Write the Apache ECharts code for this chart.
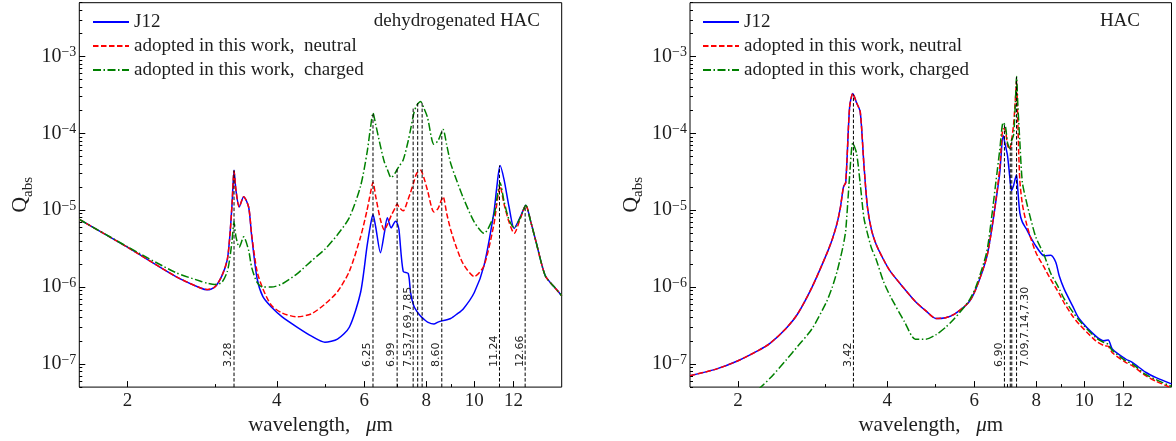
<!DOCTYPE html>
<html><head><meta charset="utf-8">
<script src="https://cdn.jsdelivr.net/npm/echarts@6/dist/echarts.min.js"></script>
<style>html,body{margin:0;padding:0;background:#fff}#c{width:1176px;height:441px}</style>
</head><body><div id="c"></div>
<script>
// ---- axis ticks ----
const xTicks = [2, 4, 6, 8, 10, 12];
const xMinorTicks = [3, 5, 7, 9];
const yTicks = [1e-7, 1e-6, 1e-5, 1e-4, 1e-3];
const ySubs = [2, 3, 4, 5, 6, 7, 8, 9];
const xRange = [1.6, 15];
const yRange = [5e-8, 5e-3];

// ---- left panel: dehydrogenated HAC ----
const lambdaL = [1.6, 2.0, 2.5, 2.8, 2.9, 3.0, 3.1, 3.18, 3.22, 3.25, 3.28, 3.31, 3.36, 3.43, 3.51, 3.56, 3.65, 3.75, 3.9, 4.1, 4.4, 4.7, 5.0, 5.3, 5.6, 5.9, 6.08, 6.18, 6.25, 6.33, 6.47, 6.59, 6.68, 6.80, 6.94, 6.99, 7.05, 7.19, 7.36, 7.44, 7.55, 7.65, 7.79, 7.92, 8.05, 8.29, 8.45, 8.65, 8.8, 8.96, 9.2, 9.5, 10.0, 10.46, 10.95, 11.1, 11.27, 11.48, 11.75, 12.03, 12.4, 12.7, 13.0, 13.3, 13.9, 14.5, 15.0];
const j12L = [7.6e-6, 3.3e-6, 1.38e-6, 9.8e-7, 9.2e-7, 1.0e-6, 1.4e-6, 2.3e-6, 5.0e-6, 1.2e-5, 3.3e-5, 1.8e-5, 1.1e-5, 1.5e-5, 1.1e-5, 4.6e-6, 1.3e-6, 7.5e-7, 5.5e-7, 4.1e-7, 3.0e-7, 2.3e-7, 1.92e-7, 2.1e-7, 3.0e-7, 8.5e-7, 3.4e-6, 6.5e-6, 8.8e-6, 6.0e-6, 2.8e-6, 5.1e-6, 8.0e-6, 5.9e-6, 7.2e-6, 6.8e-6, 5.6e-6, 1.6e-6, 1.5e-6, 8.5e-7, 5.7e-7, 4.9e-7, 4.2e-7, 3.8e-7, 3.5e-7, 3.3e-7, 3.5e-7, 3.66e-7, 3.75e-7, 3.9e-7, 4.4e-7, 5.2e-7, 8.5e-7, 1.9e-6, 9.3e-6, 2.0e-5, 3.8e-5, 2.5e-5, 1.1e-5, 5.8e-6, 8.4e-6, 1.16e-5, 7.0e-6, 4.0e-6, 1.4e-6, 1.0e-6, 7.7e-7];
const neutralL = [7.6e-6, 3.3e-6, 1.38e-6, 9.8e-7, 9.3e-7, 1.0e-6, 1.4e-6, 2.3e-6, 5.0e-6, 1.2e-5, 3.2e-5, 1.8e-5, 1.1e-5, 1.5e-5, 1.1e-5, 4.8e-6, 1.6e-6, 9.5e-7, 5.8e-7, 4.6e-7, 4.1e-7, 4.5e-7, 6.0e-7, 8.7e-7, 1.6e-6, 4.5e-6, 1.0e-5, 1.7e-5, 2.3e-5, 1.5e-5, 7.5e-6, 5.5e-6, 6.5e-6, 8.5e-6, 1.1e-5, 1.2e-5, 1.1e-5, 9.8e-6, 1.4e-5, 1.7e-5, 2.3e-5, 3.0e-5, 3.3e-5, 2.6e-5, 1.8e-5, 9.5e-6, 1.05e-5, 1.5e-5, 9.0e-6, 5.6e-6, 3.3e-6, 2.0e-6, 1.37e-6, 1.9e-6, 6.5e-6, 1.2e-5, 2.05e-5, 1.2e-5, 7.0e-6, 5.0e-6, 8.0e-6, 1.16e-5, 7.0e-6, 4.0e-6, 1.4e-6, 1.0e-6, 7.7e-7];
const chargedL = [7.6e-6, 3.35e-6, 1.55e-6, 1.2e-6, 1.12e-6, 1.08e-6, 1.15e-6, 1.6e-6, 2.5e-6, 4.0e-6, 7.0e-6, 4.5e-6, 3.3e-6, 4.5e-6, 3.0e-6, 1.8e-6, 1.15e-6, 1.0e-6, 1.0e-6, 1.1e-6, 1.5e-6, 2.2e-6, 3.1e-6, 4.8e-6, 8.0e-6, 2.06e-5, 5.6e-5, 1.2e-4, 1.84e-4, 1.3e-4, 6.8e-5, 4.2e-5, 3.4e-5, 2.64e-5, 3.1e-5, 3.4e-5, 3.7e-5, 4.5e-5, 8.0e-5, 1.12e-4, 1.8e-4, 2.3e-4, 2.6e-4, 2.1e-4, 1.6e-4, 7.2e-5, 8.0e-5, 1.12e-4, 7.0e-5, 4.1e-5, 2.5e-5, 1.45e-5, 7.0e-6, 5.0e-6, 8.5e-6, 1.4e-5, 2.28e-5, 1.3e-5, 7.5e-6, 5.9e-6, 8.2e-6, 1.16e-5, 7.0e-6, 4.0e-6, 1.4e-6, 1.0e-6, 7.7e-7];
const bandsL = [3.28, 6.25, 6.99, 7.53, 7.69, 7.85, 8.60, 11.24, 12.66];
const bandTopsL = [3.3e-5, 1.8e-4, 3.4e-5, 2.2e-4, 2.6e-4, 2.5e-4, 1.1e-4, 3.8e-5, 1.16e-5];
const bandLabelsL = ['3.28', '6.25', '6.99', '7.53,7.69,7.85', '', '', '8.60', '11.24', '12.66'];

// ---- right panel: HAC ----
const lambdaR = [1.6, 1.8, 2.0, 2.2, 2.32, 2.5, 2.64, 2.82, 3.02, 3.1, 3.17, 3.22, 3.265, 3.30, 3.36, 3.41, 3.47, 3.53, 3.59, 3.65, 3.72, 3.8, 3.93, 4.06, 4.34, 4.56, 4.79, 5.02, 5.25, 5.47, 5.84, 6.04, 6.35, 6.5, 6.63, 6.75, 6.86, 6.93, 7.0, 7.07, 7.13, 7.2, 7.26, 7.30, 7.34, 7.41, 7.5, 7.64, 7.8, 7.99, 8.3, 8.56, 8.76, 8.9, 9.11, 9.47, 9.76, 10.55, 10.96, 11.18, 11.39, 12.12, 12.5, 13.3, 14.0, 15.0];
const j12R = [7.05e-8, 8.5e-8, 1.1e-7, 1.5e-7, 1.85e-7, 2.9e-7, 4.5e-7, 9.9e-7, 2.7e-6, 4.2e-6, 6.8e-6, 1.1e-5, 2.0e-5, 2.3e-5, 2.2e-4, 3.3e-4, 2.5e-4, 1.9e-4, 4.0e-5, 1.1e-5, 5.5e-6, 3.6e-6, 2.3e-6, 1.6e-6, 9.4e-7, 6.5e-7, 4.9e-7, 3.9e-7, 4.0e-7, 4.45e-7, 6.3e-7, 9.4e-7, 2.4e-6, 5.5e-6, 1.3e-5, 3.0e-5, 9.4e-5, 7.0e-5, 5.1e-5, 2.8e-5, 1.8e-5, 2.1e-5, 2.6e-5, 2.9e-5, 1.9e-5, 9.3e-6, 7.0e-6, 5.7e-6, 4.4e-6, 3.4e-6, 2.55e-6, 2.6e-6, 2.1e-6, 1.4e-6, 9.4e-7, 5.7e-7, 3.9e-7, 2.3e-7, 2.0e-7, 2.05e-7, 1.57e-7, 1.16e-7, 1.05e-7, 7.8e-8, 6.6e-8, 5.5e-8];
const neutralR = [7.05e-8, 8.5e-8, 1.1e-7, 1.5e-7, 1.85e-7, 2.9e-7, 4.5e-7, 9.9e-7, 2.7e-6, 4.2e-6, 6.8e-6, 1.1e-5, 2.0e-5, 2.3e-5, 2.2e-4, 3.3e-4, 2.5e-4, 1.9e-4, 4.0e-5, 1.1e-5, 5.5e-6, 3.6e-6, 2.3e-6, 1.6e-6, 9.4e-7, 6.5e-7, 4.9e-7, 3.9e-7, 4.0e-7, 4.45e-7, 6.3e-7, 9.4e-7, 2.4e-6, 5.5e-6, 1.35e-5, 3.5e-5, 1.15e-4, 1.1e-4, 7.0e-5, 6.2e-5, 8.0e-5, 1.3e-4, 2.8e-4, 4.8e-4, 1.5e-4, 2.5e-5, 1.2e-5, 6.8e-6, 4.3e-6, 2.8e-6, 1.8e-6, 1.25e-6, 9.8e-7, 8.2e-7, 6.2e-7, 4.2e-7, 3.3e-7, 2.0e-7, 1.73e-7, 1.7e-7, 1.4e-7, 1.05e-7, 9.5e-8, 7.05e-8, 5.9e-8, 4.9e-8];
const chargedR = [null, null, null, 4.7e-8, 6.5e-8, 1.12e-7, 1.7e-7, 2.85e-7, 6.5e-7, 1.0e-6, 1.6e-6, 2.4e-6, 3.6e-6, 5.5e-6, 2.8e-5, 7.5e-5, 5.5e-5, 2.2e-5, 8.0e-6, 5.0e-6, 3.2e-6, 2.3e-6, 1.2e-6, 7.6e-7, 3.5e-7, 2.1e-7, 2.1e-7, 2.4e-7, 3.0e-7, 3.9e-7, 6.5e-7, 1.0e-6, 2.8e-6, 8.0e-6, 2.3e-5, 6.0e-5, 1.38e-4, 1.25e-4, 7.5e-5, 6.4e-5, 8.0e-5, 9.5e-5, 2.5e-4, 5.5e-4, 2.5e-4, 8.0e-5, 2.3e-5, 1.3e-5, 7.6e-6, 4.4e-6, 2.6e-6, 1.5e-6, 1.15e-6, 9.5e-7, 7.0e-7, 4.8e-7, 3.7e-7, 2.2e-7, 1.9e-7, 1.8e-7, 1.5e-7, 1.1e-7, 1.0e-7, 7.3e-8, 6.2e-8, 5.1e-8];
const bandsR = [3.42, 6.90, 7.09, 7.14, 7.30];
const bandTopsR = [3.2e-4, 1.35e-4, 6.4e-5, 8.5e-5, 5.4e-4];
const bandLabelsR = ['3.42', '6.90', '', '', '7.09,7.14,7.30'];

const NAME_J12 = 'J12';
const NEUTRAL_L = 'adopted in this work,  neutral';
const CHARGED_L = 'adopted in this work,  charged';
const NEUTRAL_R = 'adopted in this work, neutral';
const CHARGED_R = 'adopted in this work, charged';
const TITLE_L = 'dehydrogenated HAC';
const TITLE_R = 'HAC';

// ---- build ----
const SERIF = '"Liberation Serif", "DejaVu Serif", serif';
const TXT = '#1e1e1e';
const lg = Math.log10;
const LX0 = lg(xRange[0]), LX1 = lg(xRange[1]);
const LY0 = lg(yRange[0]), LY1 = lg(yRange[1]);
const yMinor = [];
yTicks.concat([1e-8]).forEach(d => ySubs.forEach(k => {
  const v = k * d; if (v >= yRange[0] && v <= yRange[1]) yMinor.push(lg(v));
}));
const toPts = (xs, ys) => xs.map((x, i) => ys[i] == null ? null : [lg(x), lg(ys[i])]).filter(p => p);

const grids = [
  {left: 79.3, top: 2.7, width: 482.4, height: 385.6},
  {left: 690, top: 2.7, width: 481.5, height: 385.6}
].map(g => Object.assign(g, {show: true, borderColor: '#000', borderWidth: 1, backgroundColor: 'transparent', containLabel: false}));

const tickLine = {color: '#000', width: 1};
const xAxes = [], yAxes = [];
[0, 1].forEach(gi => {
  xAxes.push({
    type: 'value', gridIndex: gi, position: 'bottom', min: LX0, max: LX1,
    axisLine: {show: false, onZero: false}, splitLine: {show: false},
    axisTick: {inside: true, length: 6, customValues: xTicks.map(lg), lineStyle: tickLine},
    axisLabel: {customValues: xTicks.map(lg), formatter: v => String(Math.round(Math.pow(10, v))),
      margin: 4, color: TXT, fontFamily: SERIF, fontSize: 19},
    name: '{n|wavelength,   }{i|μ}{n|m}', nameLocation: 'middle', nameGap: 26,
    nameTextStyle: {rich: {
      n: {fontFamily: SERIF, fontSize: 21, color: TXT},
      i: {fontFamily: SERIF, fontSize: 21, fontStyle: 'italic', color: TXT}}}
  });
  yAxes.push({
    type: 'value', gridIndex: gi, position: 'left', min: LY0, max: LY1,
    axisLine: {show: false, onZero: false}, splitLine: {show: false},
    axisTick: {inside: true, length: 6, customValues: yTicks.map(lg), lineStyle: tickLine},
    axisLabel: {customValues: yTicks.map(lg), margin: 3,
      formatter: v => '{b|10}{e|\u2212' + Math.round(-v) + '}',
      rich: {
        b: {fontFamily: SERIF, fontSize: 20, color: TXT, lineHeight: 22},
        e: {fontFamily: SERIF, fontSize: 14, color: TXT, lineHeight: 22, verticalAlign: 'top'}}},
    name: '{q|Q}{s|abs}', nameLocation: 'middle', nameGap: 44, nameRotate: 90,
    nameTextStyle: {rich: {
      q: {fontFamily: SERIF, fontSize: 22, color: TXT, lineHeight: 24},
      s: {fontFamily: SERIF, fontSize: 15, color: TXT, lineHeight: 30, verticalAlign: 'bottom'}}}
  });
});
[0, 1].forEach(gi => {
  xAxes.push({
    type: 'value', gridIndex: gi, position: 'bottom', min: LX0, max: LX1,
    axisLine: {show: false, onZero: false}, splitLine: {show: false}, axisLabel: {show: false},
    axisTick: {inside: true, length: 3, customValues: xMinorTicks.map(lg), lineStyle: tickLine}
  });
  yAxes.push({
    type: 'value', gridIndex: gi, position: 'left', min: LY0, max: LY1,
    axisLine: {show: false, onZero: false}, splitLine: {show: false}, axisLabel: {show: false},
    axisTick: {inside: true, length: 3, customValues: yMinor, lineStyle: tickLine}
  });
});

function line(name, xs, ys, color, dash, gi, z) {
  return {type: 'line', name, xAxisIndex: gi, yAxisIndex: gi, data: toPts(xs, ys),
    symbol: 'none', showSymbol: false, smooth: 0.25, animation: false, z,
    lineStyle: {color, width: 1.5, type: dash}, itemStyle: {color}};
}
function bands(bs, tops, labels, gi, rightIdx) {
  return {
    type: 'custom', xAxisIndex: gi, yAxisIndex: gi, silent: true, animation: false, z: 5,
    data: bs.map((b, i) => [lg(b), lg(tops[i]), i]),
    renderItem: (params, api) => {
      const i = api.value(2), x = api.value(0);
      const top = api.coord([x, api.value(1)]);
      const bot = api.coord([x, LY0]);
      const ch = [{type: 'line', shape: {x1: bot[0], y1: bot[1], x2: top[0], y2: top[1]},
        style: {stroke: '#000', lineWidth: 1, lineDash: [3.5, 2]}}];
      const t = labels[i];
      if (t) {
        const right = i === rightIdx;
        ch.push({type: 'text', x: bot[0] + (right ? 3 : 0), y: bot[1] - 20, rotation: Math.PI / 2,
          style: {text: t, fill: TXT, fontSize: 11, fontFamily: 'DejaVu Sans',
            align: 'left', verticalAlign: right ? 'top' : 'bottom'}});
      }
      return {type: 'group', children: ch};
    }
  };
}

const DASH = [5.5, 2.5];
const DASHDOT = [8, 2.5, 1.5, 2.5];
const series = [
  line(NAME_J12, lambdaL, j12L, '#0000ff', 'solid', 0, 2),
  line(NEUTRAL_L, lambdaL, neutralL, '#ff0000', DASH, 0, 3),
  line(CHARGED_L, lambdaL, chargedL, '#008000', DASHDOT, 0, 4),
  bands(bandsL, bandTopsL, bandLabelsL, 0, -1),
  line(NAME_J12, lambdaR, j12R, '#0000ff', 'solid', 1, 2),
  line(NEUTRAL_R, lambdaR, neutralR, '#ff0000', DASH, 1, 3),
  line(CHARGED_R, lambdaR, chargedR, '#008000', DASHDOT, 1, 4),
  bands(bandsR, bandTopsR, bandLabelsR, 1, 4)
];

const legendBase = {orient: 'vertical', top: 12, padding: 0, itemWidth: 36, itemHeight: 14, itemGap: 4,
  selectedMode: false, itemStyle: {opacity: 0},
  textStyle: {fontFamily: SERIF, fontSize: 19, color: TXT, lineHeight: 20}};
const titleText = {fontFamily: SERIF, fontSize: 19, fontWeight: 'normal', color: TXT};

const chart = echarts.init(document.getElementById('c'), null, {renderer: 'canvas'});
chart.setOption({
  backgroundColor: '#fff',
  animation: false,
  title: [
    {text: TITLE_L, right: 636, top: 12, padding: 0, textStyle: titleText},
    {text: TITLE_R, right: 36, top: 12, padding: 0, textStyle: titleText}
  ],
  legend: [
    Object.assign({}, legendBase, {left: 92, data: [NAME_J12, NEUTRAL_L, CHARGED_L]}),
    Object.assign({}, legendBase, {left: 702, data: [NAME_J12, NEUTRAL_R, CHARGED_R]})
  ],
  grid: grids,
  xAxis: xAxes,
  yAxis: yAxes,
  series
});
</script>
</body></html>
